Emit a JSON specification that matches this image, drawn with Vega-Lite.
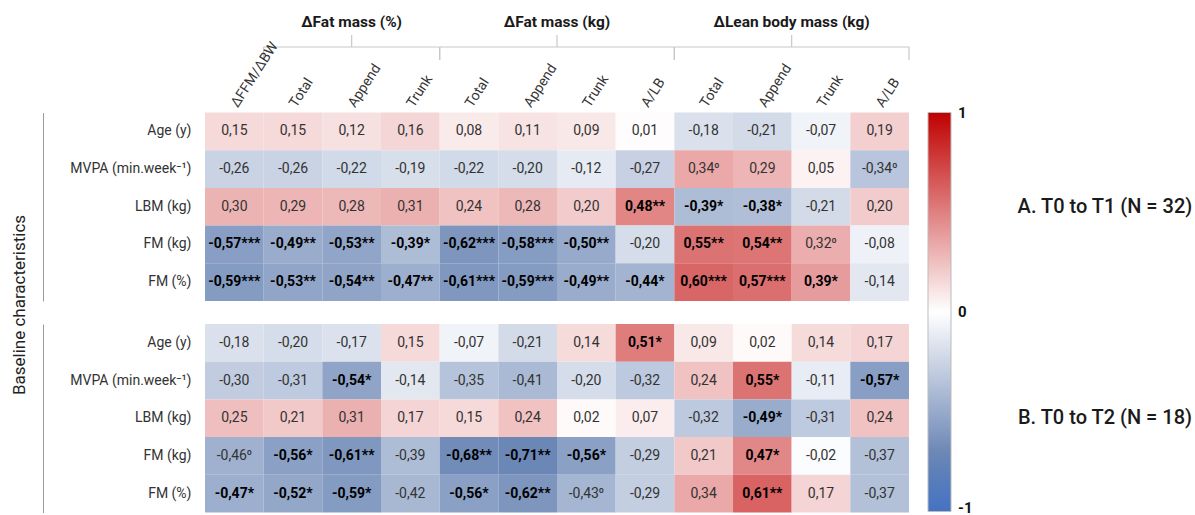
{
  "$schema": "https://vega.github.io/schema/vega-lite/v6.json",
  "padding": {"left": 10, "top": 0, "right": 5, "bottom": 0},
  "autosize": {"type": "pad"},
  "bounds": "flush",
  "spacing": 22.5,
  "config": {
    "font": "Roboto, sans-serif",
    "view": {"stroke": null},
    "background": "white"
  },
  "resolve": {"scale": {"fill": "independent"}, "legend": {"fill": "independent"}},
  "datasets": {
    "groups": [
      {"group": "ΔFat mass (%)", "from": 1, "to": 4, "mid": 2.5},
      {"group": "ΔFat mass (kg)", "from": 4, "to": 8, "mid": 6},
      {"group": "ΔLean body mass (kg)", "from": 8, "to": 12, "mid": 10}
    ],
    "A": [
      {"row": "Age (y)", "col": "0|ΔFFM/ΔBW", "r": 0.15, "label": "0,15"},
      {"row": "Age (y)", "col": "1|Total", "r": 0.15, "label": "0,15"},
      {"row": "Age (y)", "col": "2|Append", "r": 0.12, "label": "0,12"},
      {"row": "Age (y)", "col": "3|Trunk", "r": 0.16, "label": "0,16"},
      {"row": "Age (y)", "col": "4|Total", "r": 0.08, "label": "0,08"},
      {"row": "Age (y)", "col": "5|Append", "r": 0.11, "label": "0,11"},
      {"row": "Age (y)", "col": "6|Trunk", "r": 0.09, "label": "0,09"},
      {"row": "Age (y)", "col": "7|A/LB", "r": 0.01, "label": "0,01"},
      {"row": "Age (y)", "col": "8|Total", "r": -0.18, "label": "-0,18"},
      {"row": "Age (y)", "col": "9|Append", "r": -0.21, "label": "-0,21"},
      {"row": "Age (y)", "col": "10|Trunk", "r": -0.07, "label": "-0,07"},
      {"row": "Age (y)", "col": "11|A/LB", "r": 0.19, "label": "0,19"},
      {"row": "MVPA (min.week⁻¹)", "col": "0|ΔFFM/ΔBW", "r": -0.26, "label": "-0,26"},
      {"row": "MVPA (min.week⁻¹)", "col": "1|Total", "r": -0.26, "label": "-0,26"},
      {"row": "MVPA (min.week⁻¹)", "col": "2|Append", "r": -0.22, "label": "-0,22"},
      {"row": "MVPA (min.week⁻¹)", "col": "3|Trunk", "r": -0.19, "label": "-0,19"},
      {"row": "MVPA (min.week⁻¹)", "col": "4|Total", "r": -0.22, "label": "-0,22"},
      {"row": "MVPA (min.week⁻¹)", "col": "5|Append", "r": -0.20, "label": "-0,20"},
      {"row": "MVPA (min.week⁻¹)", "col": "6|Trunk", "r": -0.12, "label": "-0,12"},
      {"row": "MVPA (min.week⁻¹)", "col": "7|A/LB", "r": -0.27, "label": "-0,27"},
      {"row": "MVPA (min.week⁻¹)", "col": "8|Total", "r": 0.34, "label": "0,34⁰"},
      {"row": "MVPA (min.week⁻¹)", "col": "9|Append", "r": 0.29, "label": "0,29"},
      {"row": "MVPA (min.week⁻¹)", "col": "10|Trunk", "r": 0.05, "label": "0,05"},
      {"row": "MVPA (min.week⁻¹)", "col": "11|A/LB", "r": -0.34, "label": "-0,34⁰"},
      {"row": "LBM (kg)", "col": "0|ΔFFM/ΔBW", "r": 0.30, "label": "0,30"},
      {"row": "LBM (kg)", "col": "1|Total", "r": 0.29, "label": "0,29"},
      {"row": "LBM (kg)", "col": "2|Append", "r": 0.28, "label": "0,28"},
      {"row": "LBM (kg)", "col": "3|Trunk", "r": 0.31, "label": "0,31"},
      {"row": "LBM (kg)", "col": "4|Total", "r": 0.24, "label": "0,24"},
      {"row": "LBM (kg)", "col": "5|Append", "r": 0.28, "label": "0,28"},
      {"row": "LBM (kg)", "col": "6|Trunk", "r": 0.20, "label": "0,20"},
      {"row": "LBM (kg)", "col": "7|A/LB", "r": 0.48, "label": "0,48**"},
      {"row": "LBM (kg)", "col": "8|Total", "r": -0.39, "label": "-0,39*"},
      {"row": "LBM (kg)", "col": "9|Append", "r": -0.38, "label": "-0,38*"},
      {"row": "LBM (kg)", "col": "10|Trunk", "r": -0.21, "label": "-0,21"},
      {"row": "LBM (kg)", "col": "11|A/LB", "r": 0.20, "label": "0,20"},
      {"row": "FM (kg)", "col": "0|ΔFFM/ΔBW", "r": -0.57, "label": "-0,57***"},
      {"row": "FM (kg)", "col": "1|Total", "r": -0.49, "label": "-0,49**"},
      {"row": "FM (kg)", "col": "2|Append", "r": -0.53, "label": "-0,53**"},
      {"row": "FM (kg)", "col": "3|Trunk", "r": -0.39, "label": "-0,39*"},
      {"row": "FM (kg)", "col": "4|Total", "r": -0.62, "label": "-0,62***"},
      {"row": "FM (kg)", "col": "5|Append", "r": -0.58, "label": "-0,58***"},
      {"row": "FM (kg)", "col": "6|Trunk", "r": -0.50, "label": "-0,50**"},
      {"row": "FM (kg)", "col": "7|A/LB", "r": -0.20, "label": "-0,20"},
      {"row": "FM (kg)", "col": "8|Total", "r": 0.55, "label": "0,55**"},
      {"row": "FM (kg)", "col": "9|Append", "r": 0.54, "label": "0,54**"},
      {"row": "FM (kg)", "col": "10|Trunk", "r": 0.32, "label": "0,32⁰"},
      {"row": "FM (kg)", "col": "11|A/LB", "r": -0.08, "label": "-0,08"},
      {"row": "FM (%)", "col": "0|ΔFFM/ΔBW", "r": -0.59, "label": "-0,59***"},
      {"row": "FM (%)", "col": "1|Total", "r": -0.53, "label": "-0,53**"},
      {"row": "FM (%)", "col": "2|Append", "r": -0.54, "label": "-0,54**"},
      {"row": "FM (%)", "col": "3|Trunk", "r": -0.47, "label": "-0,47**"},
      {"row": "FM (%)", "col": "4|Total", "r": -0.61, "label": "-0,61***"},
      {"row": "FM (%)", "col": "5|Append", "r": -0.59, "label": "-0,59***"},
      {"row": "FM (%)", "col": "6|Trunk", "r": -0.49, "label": "-0,49**"},
      {"row": "FM (%)", "col": "7|A/LB", "r": -0.44, "label": "-0,44*"},
      {"row": "FM (%)", "col": "8|Total", "r": 0.60, "label": "0,60***"},
      {"row": "FM (%)", "col": "9|Append", "r": 0.57, "label": "0,57***"},
      {"row": "FM (%)", "col": "10|Trunk", "r": 0.39, "label": "0,39*"},
      {"row": "FM (%)", "col": "11|A/LB", "r": -0.14, "label": "-0,14"}
    ],
    "B": [
      {"row": "Age (y)", "col": "0|ΔFFM/ΔBW", "r": -0.18, "label": "-0,18"},
      {"row": "Age (y)", "col": "1|Total", "r": -0.20, "label": "-0,20"},
      {"row": "Age (y)", "col": "2|Append", "r": -0.17, "label": "-0,17"},
      {"row": "Age (y)", "col": "3|Trunk", "r": 0.15, "label": "0,15"},
      {"row": "Age (y)", "col": "4|Total", "r": -0.07, "label": "-0,07"},
      {"row": "Age (y)", "col": "5|Append", "r": -0.21, "label": "-0,21"},
      {"row": "Age (y)", "col": "6|Trunk", "r": 0.14, "label": "0,14"},
      {"row": "Age (y)", "col": "7|A/LB", "r": 0.51, "label": "0,51*"},
      {"row": "Age (y)", "col": "8|Total", "r": 0.09, "label": "0,09"},
      {"row": "Age (y)", "col": "9|Append", "r": 0.02, "label": "0,02"},
      {"row": "Age (y)", "col": "10|Trunk", "r": 0.14, "label": "0,14"},
      {"row": "Age (y)", "col": "11|A/LB", "r": 0.17, "label": "0,17"},
      {"row": "MVPA (min.week⁻¹)", "col": "0|ΔFFM/ΔBW", "r": -0.30, "label": "-0,30"},
      {"row": "MVPA (min.week⁻¹)", "col": "1|Total", "r": -0.31, "label": "-0,31"},
      {"row": "MVPA (min.week⁻¹)", "col": "2|Append", "r": -0.54, "label": "-0,54*"},
      {"row": "MVPA (min.week⁻¹)", "col": "3|Trunk", "r": -0.14, "label": "-0,14"},
      {"row": "MVPA (min.week⁻¹)", "col": "4|Total", "r": -0.35, "label": "-0,35"},
      {"row": "MVPA (min.week⁻¹)", "col": "5|Append", "r": -0.41, "label": "-0,41"},
      {"row": "MVPA (min.week⁻¹)", "col": "6|Trunk", "r": -0.20, "label": "-0,20"},
      {"row": "MVPA (min.week⁻¹)", "col": "7|A/LB", "r": -0.32, "label": "-0,32"},
      {"row": "MVPA (min.week⁻¹)", "col": "8|Total", "r": 0.24, "label": "0,24"},
      {"row": "MVPA (min.week⁻¹)", "col": "9|Append", "r": 0.55, "label": "0,55*"},
      {"row": "MVPA (min.week⁻¹)", "col": "10|Trunk", "r": -0.11, "label": "-0,11"},
      {"row": "MVPA (min.week⁻¹)", "col": "11|A/LB", "r": -0.57, "label": "-0,57*"},
      {"row": "LBM (kg)", "col": "0|ΔFFM/ΔBW", "r": 0.25, "label": "0,25"},
      {"row": "LBM (kg)", "col": "1|Total", "r": 0.21, "label": "0,21"},
      {"row": "LBM (kg)", "col": "2|Append", "r": 0.31, "label": "0,31"},
      {"row": "LBM (kg)", "col": "3|Trunk", "r": 0.17, "label": "0,17"},
      {"row": "LBM (kg)", "col": "4|Total", "r": 0.15, "label": "0,15"},
      {"row": "LBM (kg)", "col": "5|Append", "r": 0.24, "label": "0,24"},
      {"row": "LBM (kg)", "col": "6|Trunk", "r": 0.02, "label": "0,02"},
      {"row": "LBM (kg)", "col": "7|A/LB", "r": 0.07, "label": "0,07"},
      {"row": "LBM (kg)", "col": "8|Total", "r": -0.32, "label": "-0,32"},
      {"row": "LBM (kg)", "col": "9|Append", "r": -0.49, "label": "-0,49*"},
      {"row": "LBM (kg)", "col": "10|Trunk", "r": -0.31, "label": "-0,31"},
      {"row": "LBM (kg)", "col": "11|A/LB", "r": 0.24, "label": "0,24"},
      {"row": "FM (kg)", "col": "0|ΔFFM/ΔBW", "r": -0.46, "label": "-0,46⁰"},
      {"row": "FM (kg)", "col": "1|Total", "r": -0.56, "label": "-0,56*"},
      {"row": "FM (kg)", "col": "2|Append", "r": -0.61, "label": "-0,61**"},
      {"row": "FM (kg)", "col": "3|Trunk", "r": -0.39, "label": "-0,39"},
      {"row": "FM (kg)", "col": "4|Total", "r": -0.68, "label": "-0,68**"},
      {"row": "FM (kg)", "col": "5|Append", "r": -0.71, "label": "-0,71**"},
      {"row": "FM (kg)", "col": "6|Trunk", "r": -0.56, "label": "-0,56*"},
      {"row": "FM (kg)", "col": "7|A/LB", "r": -0.29, "label": "-0,29"},
      {"row": "FM (kg)", "col": "8|Total", "r": 0.21, "label": "0,21"},
      {"row": "FM (kg)", "col": "9|Append", "r": 0.47, "label": "0,47*"},
      {"row": "FM (kg)", "col": "10|Trunk", "r": -0.02, "label": "-0,02"},
      {"row": "FM (kg)", "col": "11|A/LB", "r": -0.37, "label": "-0,37"},
      {"row": "FM (%)", "col": "0|ΔFFM/ΔBW", "r": -0.47, "label": "-0,47*"},
      {"row": "FM (%)", "col": "1|Total", "r": -0.52, "label": "-0,52*"},
      {"row": "FM (%)", "col": "2|Append", "r": -0.59, "label": "-0,59*"},
      {"row": "FM (%)", "col": "3|Trunk", "r": -0.42, "label": "-0,42"},
      {"row": "FM (%)", "col": "4|Total", "r": -0.56, "label": "-0,56*"},
      {"row": "FM (%)", "col": "5|Append", "r": -0.62, "label": "-0,62**"},
      {"row": "FM (%)", "col": "6|Trunk", "r": -0.43, "label": "-0,43⁰"},
      {"row": "FM (%)", "col": "7|A/LB", "r": -0.29, "label": "-0,29"},
      {"row": "FM (%)", "col": "8|Total", "r": 0.34, "label": "0,34"},
      {"row": "FM (%)", "col": "9|Append", "r": 0.61, "label": "0,61**"},
      {"row": "FM (%)", "col": "10|Trunk", "r": 0.17, "label": "0,17"},
      {"row": "FM (%)", "col": "11|A/LB", "r": -0.37, "label": "-0,37"}
    ]
  },
  "vconcat": [
    {
      "width": 704,
      "height": 90,
      "data": {"name": "groups"},
      "layer": [
        {
          "mark": {"type": "rule", "color": "#c8c8c8", "strokeWidth": 1.2},
          "encoding": {
            "x": {"field": "from", "type": "quantitative", "scale": {"domain": [0, 12], "nice": false, "zero": false}, "axis": null},
            "x2": {"field": "to"},
            "y": {"datum": 43, "type": "quantitative", "scale": {"domain": [0, 90], "nice": false}, "axis": null}
          }
        },
        {
          "mark": {"type": "rule", "color": "#c8c8c8", "strokeWidth": 1.2},
          "encoding": {
            "x": {"field": "from", "type": "quantitative", "scale": {"domain": [0, 12], "nice": false, "zero": false}, "axis": null},
            "y": {"datum": 43, "type": "quantitative", "scale": {"domain": [0, 90], "nice": false}, "axis": null},
            "y2": {"datum": 30}
          }
        },
        {
          "mark": {"type": "rule", "color": "#c8c8c8", "strokeWidth": 1.2},
          "encoding": {
            "x": {"field": "to", "type": "quantitative", "scale": {"domain": [0, 12], "nice": false, "zero": false}, "axis": null},
            "y": {"datum": 43, "type": "quantitative", "scale": {"domain": [0, 90], "nice": false}, "axis": null},
            "y2": {"datum": 30}
          }
        },
        {
          "mark": {"type": "rule", "color": "#c8c8c8", "strokeWidth": 1.2},
          "encoding": {
            "x": {"field": "mid", "type": "quantitative", "scale": {"domain": [0, 12], "nice": false, "zero": false}, "axis": null},
            "y": {"datum": 43, "type": "quantitative", "scale": {"domain": [0, 90], "nice": false}, "axis": null},
            "y2": {"datum": 55}
          }
        },
        {
          "mark": {"type": "text", "fontSize": 15.5, "fontWeight": "bold", "color": "#1a1a1a", "baseline": "middle", "align": "center"},
          "encoding": {
            "x": {"field": "mid", "type": "quantitative", "scale": {"domain": [0, 12], "nice": false, "zero": false}, "axis": null},
            "y": {"datum": 68.5, "type": "quantitative", "scale": {"domain": [0, 90], "nice": false}, "axis": null},
            "text": {"field": "group"}
          }
        }
      ]
    },
    {
      "width": 704,
      "height": 188.5,
      "data": {"name": "A"},
      "title": {"text": "A. T0 to T1 (N = 32)", "orient": "right", "angle": 0, "align": "left", "baseline": "middle", "anchor": "middle", "frame": "group", "offset": -131, "fontSize": 20, "fontWeight": 500, "color": "#1a1a1a"},
      "encoding": {
        "x": {
          "field": "col", "type": "nominal", "sort": null,
          "scale": {"domain": ["0|ΔFFM/ΔBW", "1|Total", "2|Append", "3|Trunk", "4|Total", "5|Append", "6|Trunk", "7|A/LB", "8|Total", "9|Append", "10|Trunk", "11|A/LB"], "paddingInner": 0, "paddingOuter": 0},
          "axis": {"orient": "top", "title": null, "domain": false, "ticks": false, "tickSize": 0, "labelAngle": -57, "labelAlign": "left", "labelBaseline": "middle", "labelPadding": 7, "labelFontSize": 14, "labelColor": "#333333", "labelExpr": "split(datum.value, '|')[1]"}
        },
        "y": {
          "field": "row", "type": "nominal", "sort": null,
          "scale": {"domain": ["Age (y)", "MVPA (min.week⁻¹)", "LBM (kg)", "FM (kg)", "FM (%)"], "paddingInner": 0, "paddingOuter": 0},
          "axis": {"title": "Baseline characteristics", "orient": "left", "offset": 162, "domain": true, "domainColor": "#9a9a9a", "domainWidth": 1, "ticks": false, "tickSize": 0, "labelPadding": -148, "labelAlign": "right", "labelFontSize": 14, "labelColor": "#333333", "titleX": -24, "titleY": 192, "titleAngle": -90, "titleBaseline": "middle", "titleAlign": "center", "titleFontSize": 17, "titleFontWeight": 400, "titleColor": "#222222"}
        }
      },
      "layer": [
        {
          "mark": {"type": "rect"},
          "encoding": {
            "fill": {
              "field": "r", "type": "quantitative",
              "scale": {"domain": [-1, -0.72, 0, 1], "range": ["#4472c4", "#6985b4", "#ffffff", "#c00000"], "interpolate": "rgb"},
              "legend": {"orient": "right", "offset": 19, "direction": "vertical", "title": null, "gradientLength": 399, "gradientThickness": 23, "values": [-1, 0, 1], "labelOverlap": false, "labelFontSize": 15, "labelFontWeight": "bold", "labelColor": "#111111", "labelOffset": 7, "gradientStrokeColor": "#bbbbbb", "gradientStrokeWidth": 1, "labelExpr": "datum.value < 0 ? '-1' : datum.value > 0 ? '1' : '0'", "encode": {"labels": {"update": {"baseline": {"signal": "datum.value < 0 ? 'bottom' : 'middle'"}, "dy": {"signal": "datum.value < 0 ? 4 : 0"}}}}}
            }
          }
        },
        {
          "transform": [{"filter": "indexof(datum.label, '*') < 0"}],
          "mark": {"type": "text", "fontSize": 14, "color": "#333333"},
          "encoding": {"text": {"field": "label"}}
        },
        {
          "transform": [{"filter": "indexof(datum.label, '*') >= 0"}],
          "mark": {"type": "text", "fontSize": 14, "fontWeight": "bold", "color": "#000000"},
          "encoding": {"text": {"field": "label"}}
        }
      ]
    },
    {
      "width": 704,
      "height": 188.5,
      "data": {"name": "B"},
      "title": {"text": "B. T0 to T2 (N = 18)", "orient": "right", "angle": 0, "align": "left", "baseline": "middle", "anchor": "middle", "frame": "group", "offset": -66, "fontSize": 20, "fontWeight": 500, "color": "#1a1a1a"},
      "encoding": {
        "x": {
          "field": "col", "type": "nominal", "sort": null,
          "scale": {"domain": ["0|ΔFFM/ΔBW", "1|Total", "2|Append", "3|Trunk", "4|Total", "5|Append", "6|Trunk", "7|A/LB", "8|Total", "9|Append", "10|Trunk", "11|A/LB"], "paddingInner": 0, "paddingOuter": 0},
          "axis": null
        },
        "y": {
          "field": "row", "type": "nominal", "sort": null,
          "scale": {"domain": ["Age (y)", "MVPA (min.week⁻¹)", "LBM (kg)", "FM (kg)", "FM (%)"], "paddingInner": 0, "paddingOuter": 0},
          "axis": {"title": null, "orient": "left", "offset": 162, "domain": true, "domainColor": "#9a9a9a", "domainWidth": 1, "ticks": false, "tickSize": 0, "labelPadding": -148, "labelAlign": "right", "labelFontSize": 14, "labelColor": "#333333"}
        }
      },
      "layer": [
        {
          "mark": {"type": "rect"},
          "encoding": {
            "fill": {"field": "r", "type": "quantitative", "scale": {"domain": [-1, -0.72, 0, 1], "range": ["#4472c4", "#6985b4", "#ffffff", "#c00000"], "interpolate": "rgb"}, "legend": null}
          }
        },
        {
          "transform": [{"filter": "indexof(datum.label, '*') < 0"}],
          "mark": {"type": "text", "fontSize": 14, "color": "#333333"},
          "encoding": {"text": {"field": "label"}}
        },
        {
          "transform": [{"filter": "indexof(datum.label, '*') >= 0"}],
          "mark": {"type": "text", "fontSize": 14, "fontWeight": "bold", "color": "#000000"},
          "encoding": {"text": {"field": "label"}}
        }
      ]
    }
  ]
}
